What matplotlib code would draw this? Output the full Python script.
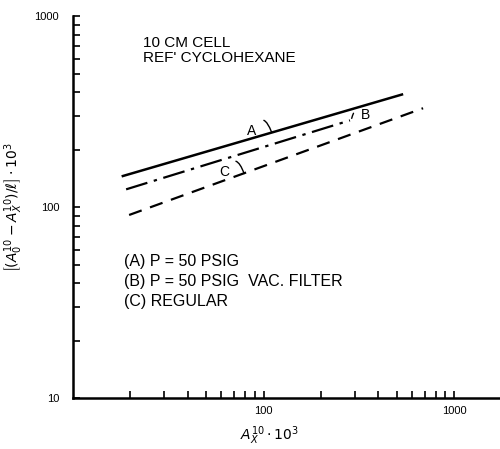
import matplotlib
matplotlib.use("Agg")
import matplotlib.pyplot as plt
import numpy as np

# line end points
x_a = [18, 540]
y_a = [145, 391]
x_b = [19, 284]
y_b = [124, 285]
x_c = [19.7, 687]
y_c = [91, 330]

x_ticks = [100, 1000]
y_ticks = [10, 100, 1000]

plt.rcParams['font.family'] = ['Liberation Sans', 'DejaVu Sans']
plt.rcParams['mathtext.fontset'] = 'dejavusans'

fig = plt.figure(figsize=(5, 4.49), dpi=100)
ax = fig.add_axes([0.146, 0.1136, 0.854, 0.850])
ax.set_xscale('log')
ax.set_yscale('log')
ax.set_xlim(10, 1740)
ax.set_ylim(10, 1000)

ax.plot(x_a, y_a, color='black', lw=1.8, solid_capstyle='butt')
ax.plot(x_b, y_b, color='black', lw=1.6, dashes=(10, 3, 1.5, 3))
ax.plot(x_c, y_c, color='black', lw=1.6, dashes=(6, 4))

for s in ['top', 'right']:
    ax.spines[s].set_visible(False)
for s in ['left', 'bottom']:
    ax.spines[s].set_linewidth(1.8)

ax.set_xticks(x_ticks)
ax.set_xticklabels([str(t) for t in x_ticks])
ax.set_yticks(y_ticks)
ax.set_yticklabels([str(t) for t in y_ticks])
ax.tick_params(which='both', direction='in', length=5, width=1.2, labelsize=8)
ax.tick_params(axis='y', which='major', pad=10)
ax.tick_params(axis='x', which='major', pad=6)

ax.set_xlabel(r'$A_X^{10}\cdot 10^3$', fontsize=10)
ax.xaxis.set_label_coords(0.46, -0.068)
ax.set_ylabel(r'$\left[(A_0^{10}-A_X^{10})/\ell\right]\cdot 10^3$', fontsize=10)
ax.yaxis.set_label_coords(-0.112, 0.5)

ax.text(0.164, 0.948, "10 CM CELL\nREF' CYCLOHEXANE", transform=ax.transAxes,
        fontsize=11, va='top', linespacing=1.05)
ax.text(0.12, 0.377, "(A) P = 50 PSIG\n(B) P = 50 PSIG  VAC. FILTER\n(C) REGULAR",
        transform=ax.transAxes, fontsize=11.5, va='top', linespacing=1.4)

# curve labels with little hooked leaders
ax.annotate('A', xy=(110, 248), xytext=(87, 250), fontsize=10, ha='center', va='center',
            arrowprops=dict(arrowstyle='-', lw=1, connectionstyle='arc3,rad=-1.2',
                            shrinkA=4, shrinkB=0))
ax.annotate('B', xy=(290, 292), xytext=(342, 303), fontsize=10, ha='center', va='center',
            arrowprops=dict(arrowstyle='-', lw=1, connectionstyle='arc3,rad=1.0',
                            shrinkA=4, shrinkB=0))
ax.annotate('C', xy=(79, 150), xytext=(62, 152), fontsize=10, ha='center', va='center',
            arrowprops=dict(arrowstyle='-', lw=1, connectionstyle='arc3,rad=-1.2',
                            shrinkA=4, shrinkB=0))

fig.savefig('out.png', dpi=100)
